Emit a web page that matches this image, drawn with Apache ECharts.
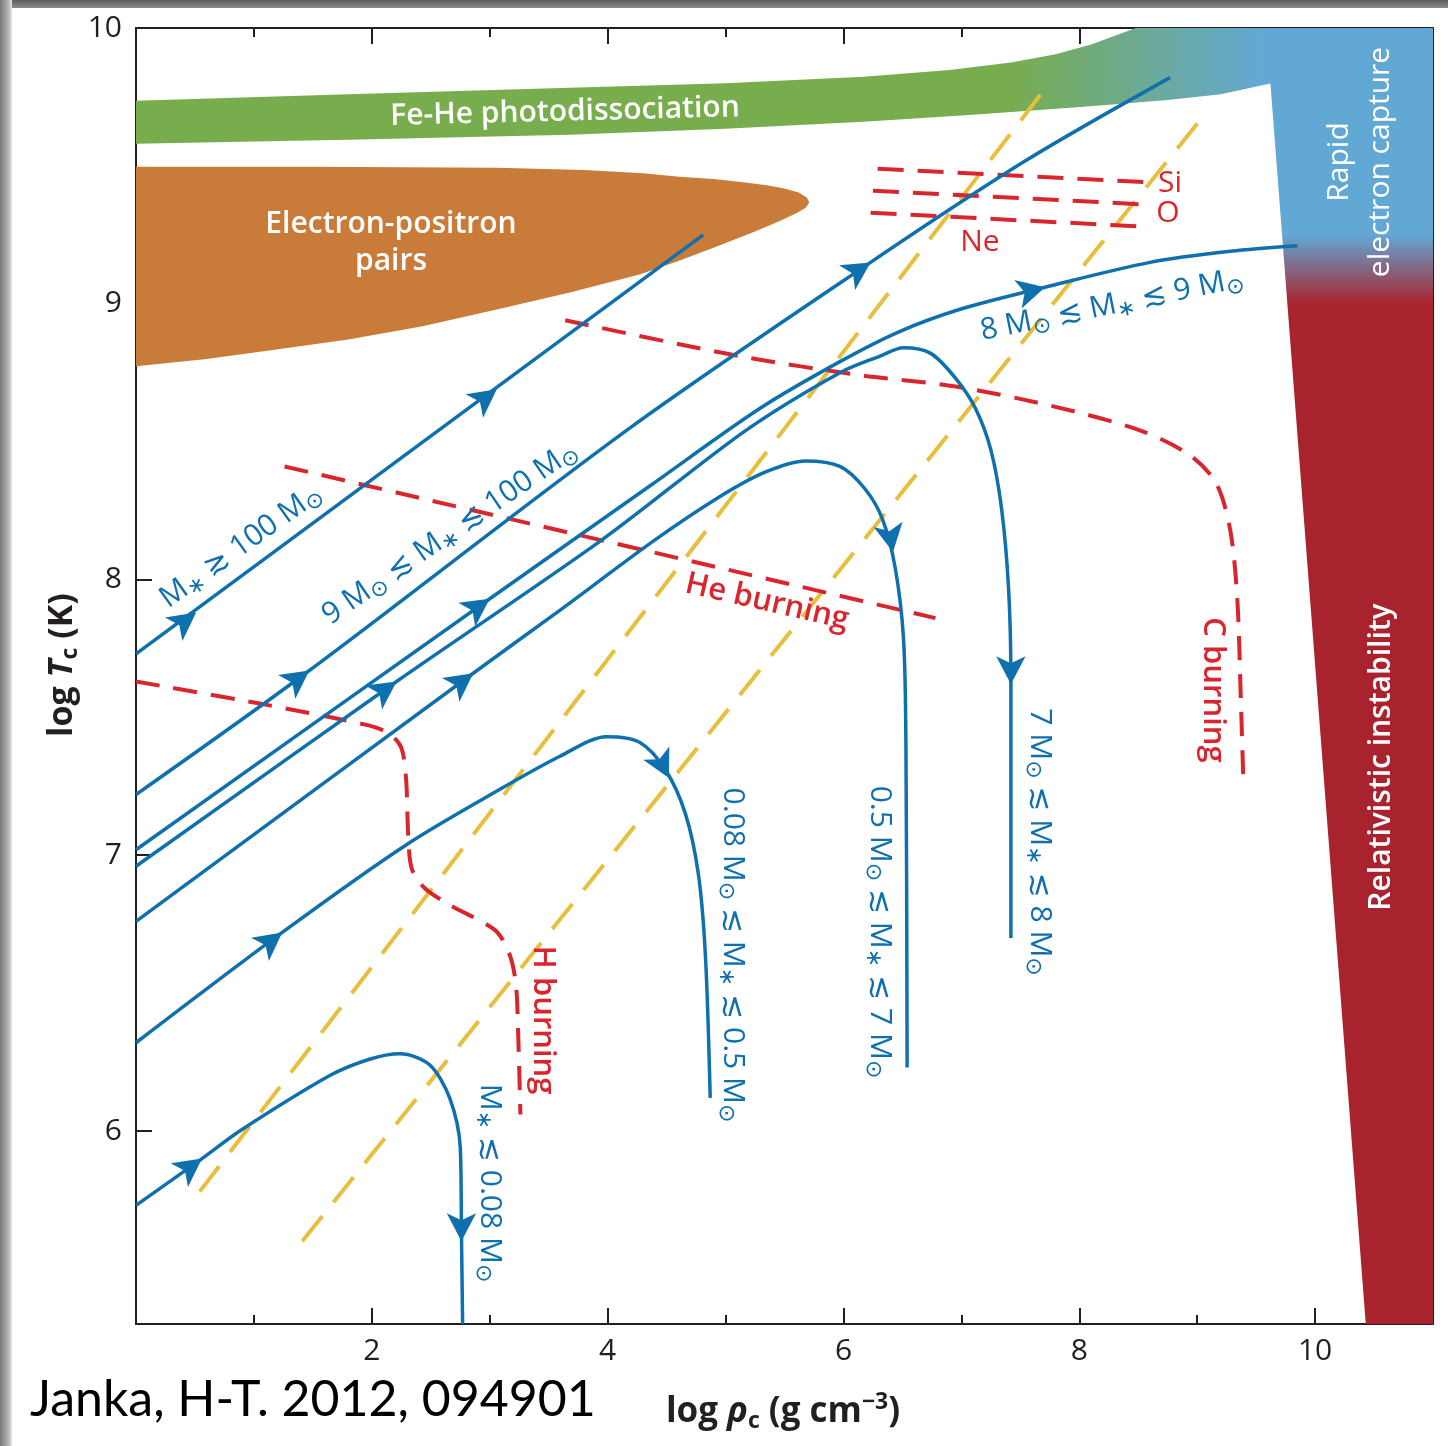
<!DOCTYPE html>
<html><head><meta charset="utf-8">
<script src="https://cdn.jsdelivr.net/npm/echarts@6/dist/echarts.min.js"></script>
<style>
html,body{margin:0;padding:0;background:#fff;}
#chart{position:absolute;left:0;top:0;width:1448px;height:1446px;}
#frameTop{position:absolute;left:0;top:0;width:1448px;height:8px;background:linear-gradient(to bottom,#5e5e5e,#8a8a8a);}
#frameLeft{position:absolute;left:0;top:0;width:12px;height:1446px;background:linear-gradient(to right,#7a7a7a,#b5b5b5 70%,#e6e6e6);}
</style></head>
<body>
<div id="chart"></div>
<div id="frameTop"></div>
<div id="frameLeft"></div>
<script>
// ---------- axis ticks ----------
const xTickLabels = [2, 4, 6, 8, 10];
const xMajorTicks = [0, 2, 4, 6, 8, 10];
const xMinorTicks = [1, 3, 5, 7, 9];
const yTickLabels = [6, 7, 8, 9, 10];

// ---------- evolution tracks (log rho_c, log T_c) ----------
const trackAbove100 = [[0, 7.73], [4.81, 9.25]];
const track9to100 = [[0, 7.22], [1.47, 7.67], [4.19, 8.55], [6.23, 9.15], [7.55, 9.52], [8.77, 9.82]];
const track8to9 = [[0, 7.02], [3.0, 7.93], [4.36, 8.34], [5.29, 8.62], [5.97, 8.79], [6.48, 8.90], [6.99, 8.98], [7.71, 9.06], [8.60, 9.15], [9.28, 9.19], [9.85, 9.21]];
const track7to8 = [[0, 6.96], [2.21, 7.63], [3.94, 8.14], [5.17, 8.54], [5.97, 8.75], [6.31, 8.81], [6.51, 8.84], [6.74, 8.82], [6.95, 8.73], [7.12, 8.62], [7.25, 8.47], [7.34, 8.26], [7.40, 7.97], [7.42, 7.64], [7.42, 6.70]];
const track05to7 = [[0, 6.76], [2.86, 7.66], [3.60, 7.89], [4.39, 8.14], [4.95, 8.30], [5.34, 8.39], [5.68, 8.43], [5.97, 8.41], [6.18, 8.33], [6.33, 8.22], [6.44, 8.04], [6.51, 7.78], [6.53, 7.39], [6.54, 6.23]];
const track008to05 = [[0, 6.32], [1.24, 6.72], [2.30, 7.04], [3.09, 7.24], [3.60, 7.36], [3.99, 7.43], [4.27, 7.41], [4.49, 7.31], [4.66, 7.15], [4.77, 6.93], [4.83, 6.63], [4.87, 6.12]];
const trackBelow008 = [[0, 5.73], [0.56, 5.90], [0.88, 6.00], [1.64, 6.20], [1.98, 6.26], [2.24, 6.28], [2.49, 6.24], [2.66, 6.12], [2.75, 5.94], [2.76, 5.64], [2.77, 5.30]];
// arrow heads: [x, y, direction angle in degrees]
const arrowHeads = [[0.51, 7.88, 36.6], [3.06, 8.69, 36.6], [1.47, 7.67, 36], [6.23, 9.15, 33], [3.0, 7.93, 35], [7.71, 9.06, 14.5], [2.21, 7.63, 35], [7.42, 7.62, -90], [2.86, 7.66, 36.5], [6.42, 8.10, -80], [1.24, 6.72, 37.5], [4.52, 7.28, -63], [0.56, 5.90, 36], [2.76, 5.60, -90]];

// ---------- burning lines ----------
const hBurning = [[0, 7.63], [1.05, 7.55], [1.98, 7.47], [2.15, 7.44], [2.25, 7.39], [2.29, 7.28], [2.31, 7.06], [2.34, 6.95], [2.45, 6.88], [2.66, 6.82], [3.04, 6.73], [3.16, 6.65], [3.22, 6.54], [3.24, 6.37], [3.26, 6.06]];
const heBurning = [[1.26, 8.41], [6.78, 7.86]];
const cBurning = [[3.64, 8.94], [5.12, 8.81], [6.16, 8.74], [6.95, 8.70], [7.76, 8.63], [8.52, 8.54], [8.94, 8.45], [9.16, 8.35], [9.28, 8.18], [9.34, 7.93], [9.37, 7.57], [9.39, 7.29]];
const siBurning = [[6.29, 9.49], [8.60, 9.44]];
const oBurning = [[6.25, 9.41], [8.56, 9.36]];
const neBurning = [[6.23, 9.33], [8.54, 9.28]];

// ---------- degeneracy boundaries (yellow) ----------
const degenLineA = [[0.54, 5.78], [7.71, 9.78]];
const degenLineB = [[1.41, 5.60], [9.07, 9.69]];

// ---------- regions ----------
const feHeTop = [[0, 9.736], [1.8, 9.76], [3.68, 9.783], [5.0, 9.80], [6.17, 9.823], [6.9, 9.848], [7.42, 9.875], [7.8, 9.905], [8.1, 9.94], [8.48, 10.0], [9.75, 10.0]];
const feHeBottom = [[9.75, 9.80], [9.63, 9.80], [9.2, 9.76], [8.75, 9.739], [8.04, 9.714], [7.1, 9.685], [6.17, 9.66], [5.0, 9.635], [3.68, 9.613], [1.8, 9.595], [0, 9.58]];
const pairRegion = [[-0.2, 9.497], [1.5, 9.497], [3.06, 9.493], [3.8, 9.485], [4.3, 9.473], [4.61, 9.461], [4.9, 9.452], [5.15, 9.441], [5.35, 9.43], [5.50, 9.418], [5.62, 9.403], [5.69, 9.385], [5.71, 9.367], [5.68, 9.348], [5.60, 9.328], [5.46, 9.300], [5.25, 9.262], [4.92, 9.207], [4.60, 9.155], [4.27, 9.106], [3.68, 9.041], [3.05, 8.978], [2.43, 8.918], [1.80, 8.870], [1.19, 8.834], [0.6, 8.800], [0, 8.773], [-0.2, 8.77]];
const rightRegion = [[9.585, 10.0], [11.0, 10.0], [11.0, 5.3], [10.43, 5.3]];

const FONT = "'Open Sans','DejaVu Sans',sans-serif";
const BLUE = '#0f70ae', RED = '#d9262e', YELLOW = '#e7bf3c';
const GREEN = '#78ad4e', SKY = '#62a8d5', CRIMSON = '#a9232f', ORANGE = '#c97b3a';

const chart = echarts.init(document.getElementById('chart'), null, {renderer: 'canvas'});

function lineS(data, color, width, dash, smooth, z) {
  return {type: 'line', xAxisIndex: 0, yAxisIndex: 0, data: data, showSymbol: false, symbol: 'none',
    smooth: smooth || false, z: z, silent: true,
    lineStyle: {color: color, width: width, type: dash || 'solid', cap: 'butt'}};
}
function regionS(points, fillFn, z, smooth) {
  return {type: 'custom', xAxisIndex: 0, yAxisIndex: 0, clip: true, silent: true, z: z, data: [[points[0][0], points[0][1]]],
    renderItem: function (params, api) {
      const pts = points.map(p => api.coord(p));
      return {type: 'polygon', shape: {points: pts, smooth: smooth || 0}, style: {fill: fillFn(api), stroke: null}};
    }};
}
const axisLineStyle = {color: '#231f20', width: 2};
function xAx(pos, labels, ticks, len, showLine) {
  return {type: 'value', position: pos, min: 0, max: 11, splitLine: {show: false},
    axisLine: {show: showLine, onZero: false, lineStyle: axisLineStyle},
    axisTick: {show: true, inside: true, length: len, customValues: ticks, lineStyle: axisLineStyle},
    axisLabel: labels ? {show: true, customValues: labels, margin: 12, fontSize: 30, color: '#231f20', fontFamily: FONT} : {show: false}};
}
function yAx(pos, labels, ticks, len) {
  return {type: 'value', position: pos, min: 5.3, max: 10, splitLine: {show: false},
    axisLine: {show: true, onZero: false, lineStyle: axisLineStyle},
    axisTick: {show: true, inside: true, length: len, customValues: ticks, lineStyle: axisLineStyle},
    axisLabel: labels ? {show: true, customValues: labels, margin: 14, fontSize: 30, color: '#231f20', fontFamily: FONT} : {show: false}};
}

function txt(x, y, text, o) {
  o = o || {};
  return {type: 'text', x: x, y: y, rotation: o.rot || 0, z: 100, silent: true,
    style: {text: text, fill: o.color || '#231f20', fontSize: o.size || 30, fontFamily: o.family || FONT,
      fontWeight: o.weight || 'normal', align: 'center', verticalAlign: 'middle', lineHeight: o.lh, rich: o.rich}};
}
const massRich = {
  n: {fontSize: 30, lineHeight: 36, fill: BLUE, fontFamily: FONT},
  s: {fontSize: 22, lineHeight: 18, fill: BLUE, fontFamily: FONT, verticalAlign: 'bottom'}
};
function massLabel(x, y, text, rot) { return txt(x, y, text, {rot: rot, rich: massRich, color: BLUE}); }

const option = {
  animation: false,
  backgroundColor: 'transparent',
  grid: {left: 136, top: 28, right: 15, bottom: 122, containLabel: false},
  xAxis: [
    xAx('bottom', xTickLabels, xMajorTicks, 16, true),
    xAx('bottom', null, xMinorTicks, 9, false),
    xAx('top', null, xMajorTicks, 16, true),
    xAx('top', null, xMinorTicks, 9, false)
  ],
  yAxis: [
    yAx('left', yTickLabels, yTickLabels, 16),
    yAx('right', null, yTickLabels, 16)
  ],
  series: [
    regionS(feHeTop.concat(feHeBottom), api => {
      const a = api.coord([7.4, 9.8])[0], b = api.coord([9.58, 9.8])[0];
      return new echarts.graphic.LinearGradient(a, 0, b, 0, [{offset: 0, color: GREEN}, {offset: 1, color: SKY}], true);
    }, 1),
    regionS(rightRegion, api => {
      const a = api.coord([10, 9.25])[1], b = api.coord([10, 9.0])[1];
      return new echarts.graphic.LinearGradient(0, a, 0, b, [{offset: 0, color: SKY}, {offset: 1, color: CRIMSON}], true);
    }, 2),
    regionS(pairRegion, () => ORANGE, 1, 0),
    lineS(degenLineA, YELLOW, 4, [32, 18], false, 3),
    lineS(degenLineB, YELLOW, 4, [32, 18], false, 3),
    lineS(hBurning, RED, 4, [24, 14], 0.3, 4),
    lineS(heBurning, RED, 4, [24, 14], false, 4),
    lineS(cBurning, RED, 4, [24, 14], 0.3, 4),
    lineS(siBurning, RED, 4, [26, 14], false, 4),
    lineS(oBurning, RED, 4, [26, 14], false, 4),
    lineS(neBurning, RED, 4, [26, 14], false, 4),
    lineS(trackAbove100, BLUE, 3.5, 'solid', false, 5),
    lineS(track9to100, BLUE, 3.5, 'solid', 0.3, 5),
    lineS(track8to9, BLUE, 3.5, 'solid', 0.3, 5),
    lineS(track7to8, BLUE, 3.5, 'solid', 0.3, 5),
    lineS(track05to7, BLUE, 3.5, 'solid', 0.3, 5),
    lineS(track008to05, BLUE, 3.5, 'solid', 0.3, 5),
    lineS(trackBelow008, BLUE, 3.5, 'solid', 0.3, 5),
    {type: 'scatter', xAxisIndex: 0, yAxisIndex: 0, z: 6, silent: true, symbol: 'arrow', symbolSize: [22, 28],
      itemStyle: {color: BLUE, opacity: 1},
      data: arrowHeads.map(a => ({value: [a[0], a[1]], symbolRotate: a[2] - 90}))}
  ],
  graphic: [
    // white region labels
    txt(565, 112, 'Fe-He photodissociation', {color: '#fff', size: 30, weight: 600, rot: 0.025}),
    txt(391, 243, 'Electron-positron\npairs', {color: '#fff', size: 30, weight: 600, lh: 37}),
    txt(1339, 162, 'Rapid', {color: '#fff', size: 30, weight: 500, rot: Math.PI / 2}),
    txt(1380, 162, 'electron capture', {color: '#fff', size: 30, weight: 500, rot: Math.PI / 2}),
    txt(1381, 757, 'Relativistic instability', {color: '#fff', size: 30, weight: 600, rot: Math.PI / 2}),
    // red labels
    txt(1170, 183, 'Si', {color: RED, size: 30, weight: 500}),
    txt(1168, 213, 'O', {color: RED, size: 30, weight: 500}),
    txt(980, 242, 'Ne', {color: RED, size: 30, weight: 500}),
    txt(767, 602, 'He burning', {color: RED, size: 31, weight: 600, rot: -0.225}),
    txt(543, 1020, 'H burning', {color: RED, size: 31, weight: 600, rot: -Math.PI / 2}),
    txt(1213, 690, 'C burning', {color: RED, size: 31, weight: 600, rot: -Math.PI / 2}),
    // blue mass labels
    massLabel(241, 546, '{n|M}{s|∗}{n| ≳ 100 M}{s|⊙}', 0.62),
    massLabel(450, 533, '{n|9 M}{s|⊙}{n| ≲ M}{s|∗}{n| ≲ 100 M}{s|⊙}', 0.6),
    massLabel(1112, 305, '{n|8 M}{s|⊙}{n| ≲ M}{s|∗}{n| ≲ 9 M}{s|⊙}', 0.2),
    massLabel(1040, 842, '{n|7 M}{s|⊙}{n| ≲ M}{s|∗}{n| ≲ 8 M}{s|⊙}', -Math.PI / 2),
    massLabel(880, 932, '{n|0.5 M}{s|⊙}{n| ≲ M}{s|∗}{n| ≲ 7 M}{s|⊙}', -Math.PI / 2),
    massLabel(733, 955, '{n|0.08 M}{s|⊙}{n| ≲ M}{s|∗}{n| ≲ 0.5 M}{s|⊙}', -Math.PI / 2),
    massLabel(490, 1183, '{n|M}{s|∗}{n| ≲ 0.08 M}{s|⊙}', -Math.PI / 2),
    // axis titles
    txt(783, 1412, '{b|log }{i|ρ}{sub|c}{b| (g cm}{sup|−3}{b|)}', {rich: {
      b: {fontSize: 35, fontWeight: 700, fill: '#231f20', fontFamily: FONT, lineHeight: 42},
      i: {fontSize: 35, fontWeight: 700, fontStyle: 'italic', fill: '#231f20', fontFamily: FONT, lineHeight: 42},
      sub: {fontSize: 23, fontWeight: 700, fill: '#231f20', fontFamily: FONT, lineHeight: 22, verticalAlign: 'bottom'},
      sup: {fontSize: 23, fontWeight: 700, fill: '#231f20', fontFamily: FONT, lineHeight: 22, verticalAlign: 'top'}}}),
    txt(62, 665, '{b|log }{i|T}{sub|c}{b| (K)}', {rot: Math.PI / 2, rich: {
      b: {fontSize: 34, fontWeight: 700, fill: '#231f20', fontFamily: FONT, lineHeight: 40},
      i: {fontSize: 34, fontWeight: 700, fontStyle: 'italic', fill: '#231f20', fontFamily: FONT, lineHeight: 40},
      sub: {fontSize: 23, fontWeight: 700, fill: '#231f20', fontFamily: FONT, lineHeight: 22, verticalAlign: 'bottom'}}}),
    // citation
    {type: 'text', x: 30, y: 1400, z: 100, silent: true,
      style: {text: 'Janka, H-T. 2012, 094901', fill: '#000', fontSize: 50, fontFamily: "Lato, 'Open Sans', sans-serif", align: 'left', verticalAlign: 'middle'}}
  ]
};
chart.setOption(option);
</script>
</body></html>
